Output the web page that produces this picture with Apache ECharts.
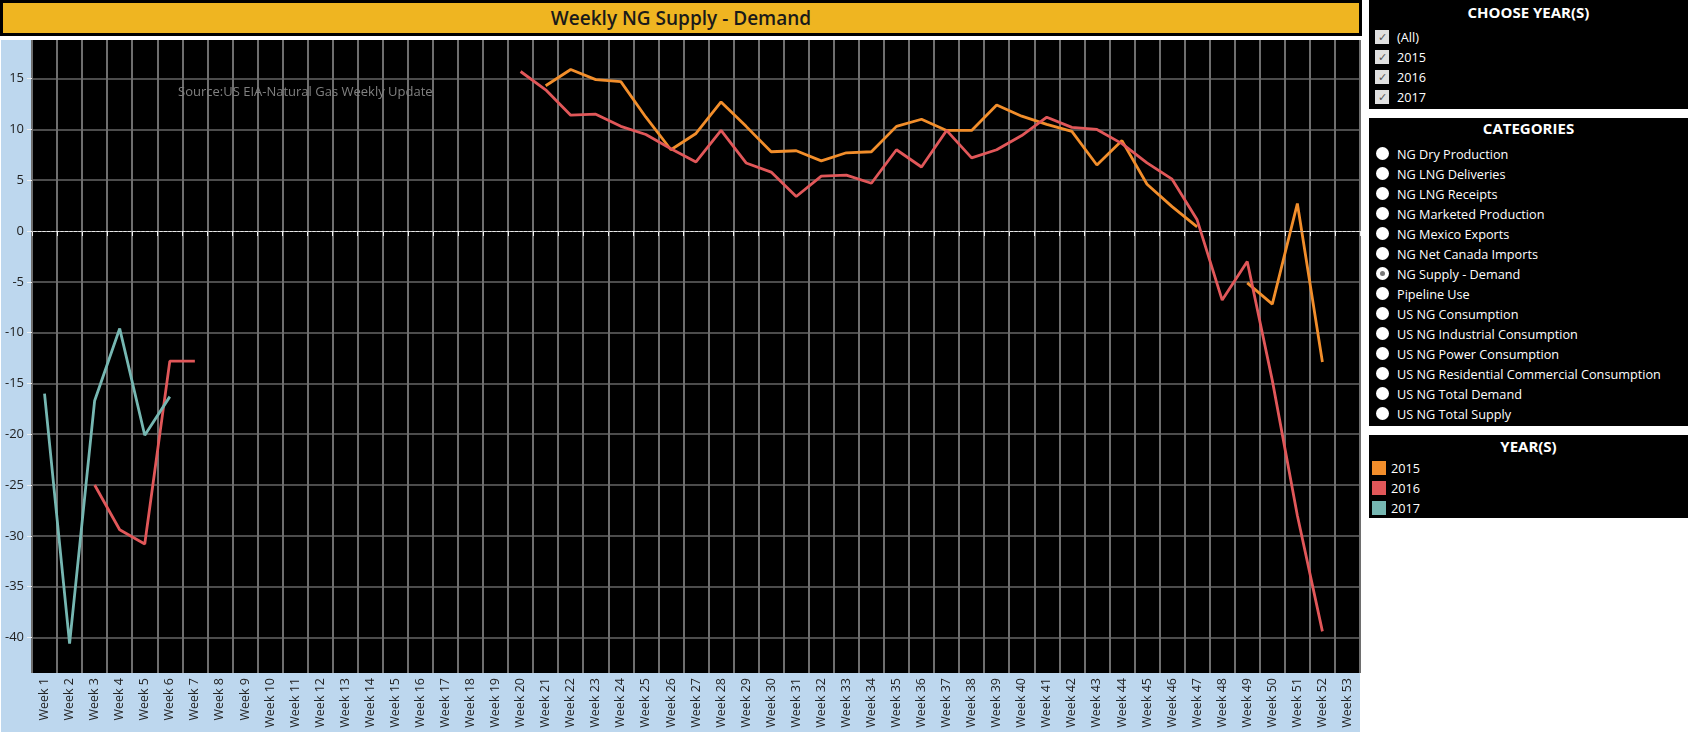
<!DOCTYPE html>
<html>
<head>
<meta charset="utf-8">
<script src="https://cdn.jsdelivr.net/npm/echarts@6/dist/echarts.min.js"></script>
<style>
  html, body { margin: 0; padding: 0; background: #fff; width: 1689px; height: 736px; overflow: hidden; font-family: "Open Sans", sans-serif; }
  #titlebar { position: absolute; left: 0; top: 0; width: 1362px; height: 36px; box-sizing: border-box; border: 3px solid #000; background: #efb521; text-align: center; font-size: 19px; font-weight: 600; line-height: 30px; color: #1a1a1a; }
  #bluebg { position: absolute; left: 1px; top: 40px; width: 1359px; height: 692px; background: #bdd7ee; }
  #chart { position: absolute; left: 0; top: 0; width: 1362px; height: 736px; }
  .panel { position: absolute; left: 1369px; width: 319px; background: #000; color: #fff; }
  .ptitle { position: absolute; left: 0; width: 100%; text-align: center; font-weight: 700; font-size: 15px; }
  .item { position: absolute; left: 28px; font-size: 12.7px; line-height: 16px; white-space: nowrap; }
  .chk { position: absolute; left: 6px; width: 14px; height: 14px; background: #e0e0e0; color: #555; font-size: 11px; line-height: 14px; text-align: center; }
  .radio { position: absolute; left: 7px; width: 13px; height: 13px; border-radius: 50%; background: #fff; }
  .radio.on::after { content: ""; position: absolute; left: 4px; top: 4px; width: 5px; height: 5px; border-radius: 50%; background: #777; }
  .sw { position: absolute; left: 3px; width: 14px; height: 14px; }
</style>
</head>
<body>
<div id="bluebg"></div>
<div id="chart"></div>
<div id="titlebar">Weekly NG Supply - Demand</div>
<div class="panel" id="p1" style="top:0;height:109px;"></div>
<div class="panel" id="p2" style="top:118px;height:308px;"></div>
<div class="panel" id="p3" style="top:435px;height:83px;"></div>
<script>
// categories
var weeks = [];
for (var i = 1; i <= 53; i++) weeks.push('Week ' + i);

// y ticks
var yTicks = [-40, -35, -30, -25, -20, -15, -10, -5, 0, 5, 10, 15];

// series values (null = no data)
var y2015 = [null, null, null, null, null, null, null, null, null, null,
  null, null, null, null, null, null, null, null, null, null,
  14.3, 15.9, 14.9, 14.7, 11.2, 8.0, 9.6, 12.7, 10.3, 7.8,
  7.9, 6.9, 7.7, 7.8, 10.3, 11.0, 9.9, 9.9, 12.4, 11.3,
  10.5, 9.8, 6.5, 8.9, 4.6, 2.4, 0.4, null, -5.1, -7.2,
  2.7, -12.9, null];
var y2016 = [null, null, -25.0, -29.4, -30.8, -12.8, -12.8, null, null, null,
  null, null, null, null, null, null, null, null, null, 15.7,
  13.9, 11.4, 11.5, 10.3, 9.5, 8.1, 6.8, 9.9, 6.7, 5.8,
  3.4, 5.4, 5.5, 4.7, 8.0, 6.3, 9.9, 7.2, 8.0, 9.4,
  11.2, 10.2, 10.0, 8.6, 6.7, 5.1, 1.1, -6.8, -3.0, -14.7,
  -28.0, -39.4, null];
var y2017 = [-16.0, -40.6, -16.7, -9.6, -20.1, -16.3];

var years = ['2015', '2016', '2017'];
var yearColors = ['#f28e2b', '#e15759', '#76b7b2'];
var categories = ['NG Dry Production', 'NG LNG Deliveries', 'NG LNG Receipts', 'NG Marketed Production',
  'NG Mexico Exports', 'NG Net Canada Imports', 'NG Supply - Demand', 'Pipeline Use', 'US NG Consumption',
  'US NG Industrial Consumption', 'US NG Power Consumption', 'US NG Residential Commercial Consumption',
  'US NG Total Demand', 'US NG Total Supply'];
var selectedCategory = 'NG Supply - Demand';

// side panels
var p1 = document.getElementById('p1');
var h = '<div class="ptitle" style="top:2px">CHOOSE YEAR(S)</div>';
['(All)'].concat(years).forEach(function (t, k) {
  var cy = 37 + k * 20;
  h += '<div class="chk" style="top:' + (cy - 7) + 'px">&#10003;</div>';
  h += '<div class="item" style="top:' + (cy - 8) + 'px">' + t + '</div>';
});
p1.innerHTML = h;

var p2 = document.getElementById('p2');
h = '<div class="ptitle" style="top:0px">CATEGORIES</div>';
categories.forEach(function (t, k) {
  var cy = 36 + k * 20;
  h += '<div class="radio' + (t === selectedCategory ? ' on' : '') + '" style="top:' + (cy - 7) + 'px"></div>';
  h += '<div class="item" style="top:' + (cy - 8) + 'px">' + t + '</div>';
});
p2.innerHTML = h;

var p3 = document.getElementById('p3');
h = '<div class="ptitle" style="top:1px">YEAR(S)</div>';
years.forEach(function (t, k) {
  var cy = 33 + k * 20;
  h += '<div class="sw" style="top:' + (cy - 7) + 'px;background:' + yearColors[k] + '"></div>';
  h += '<div class="item" style="left:22px;top:' + (cy - 8) + 'px">' + t + '</div>';
});
p3.innerHTML = h;

// chart
var chart = echarts.init(document.getElementById('chart'), null, { renderer: 'canvas' });
var font = '"Open Sans", sans-serif';

function lineSeries(name, data, color, extra) {
  var s = {
    name: name,
    type: 'line',
    data: data,
    showSymbol: false,
    symbol: 'none',
    connectNulls: false,
    lineStyle: { color: color, width: 2.8 },
    itemStyle: { color: color },
    animation: false
  };
  if (extra) Object.assign(s, extra);
  return s;
}

var option = {
  backgroundColor: 'transparent',
  animation: false,
  grid: {
    left: 32, top: 40, width: 1328, height: 633,
    show: true, backgroundColor: '#000', borderWidth: 0
  },
  graphic: [{
    type: 'text',
    left: 178, top: 86,
    z: 10,
    style: { text: 'Source:US EIA-Natural Gas Weekly Update', fill: '#808080', font: '13px ' + font }
  }],
  xAxis: {
    type: 'category',
    data: weeks,
    boundaryGap: true,
    axisLine: { show: true, lineStyle: { color: '#e8e8e8', width: 1 } },
    axisTick: { show: true, length: 5, lineStyle: { color: '#f0f0f0' } },
    axisLabel: { rotate: 90, interval: 0, margin: 5, color: '#222', fontSize: 12.5, fontFamily: font },
    splitLine: { show: true, interval: 0, lineStyle: { color: '#6e6e6e', width: 2 } }
  },
  yAxis: {
    type: 'value',
    min: -43.5,
    max: 18.8,
    axisLine: { show: false },
    axisTick: { show: true, length: 5, customValues: yTicks, lineStyle: { color: '#f0f0f0' } },
    axisLabel: { customValues: yTicks, margin: 8, color: '#222', fontSize: 13, fontFamily: font },
    splitLine: {
      show: true,
      lineStyle: {
        color: yTicks.map(function (v) { return v === 0 ? 'rgba(0,0,0,0)' : '#666'; }),
        width: 1.5
      }
    }
  },
  series: [
    lineSeries(years[0], y2015, yearColors[0], {
      markLine: {
        silent: true,
        symbol: 'none',
        label: { show: false },
        lineStyle: { type: [1.5, 3], color: '#b0b0b0', width: 1 },
        data: [{ yAxis: 0 }]
      }
    }),
    lineSeries(years[1], y2016, yearColors[1]),
    lineSeries(years[2], y2017, yearColors[2])
  ]
};
chart.setOption(option);
</script>
</body>
</html>
